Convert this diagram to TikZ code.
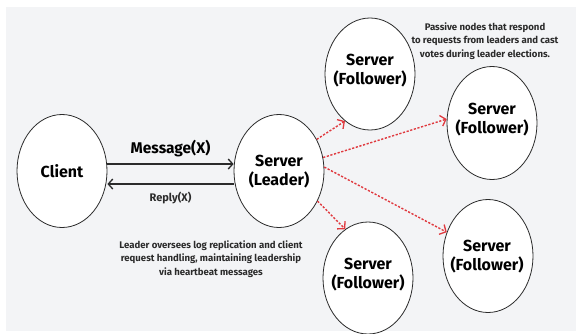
\documentclass[tikz,border=0pt]{standalone}
\usepackage{fontspec}
\setmainfont{Fira Sans}
\usetikzlibrary{arrows.meta,shapes.geometric}
\definecolor{bgcol}{HTML}{F3F4F6}
\definecolor{inkcol}{HTML}{2B2B2B}
\definecolor{hbcol}{HTML}{E0393E}
\tikzset{
  server/.style={draw=inkcol, line width=0.8pt, fill=white, ellipse shape},
  ellipse shape/.style={shape=ellipse, minimum width=90pt, minimum height=113pt, inner sep=0pt},
  lbl/.style={font=\bfseries\fontsize{16}{19}\selectfont, text=black, align=center},
  note/.style={font=\bfseries\fontsize{9.6}{13.3}\selectfont, text=inkcol, align=center},
  msg/.style={draw=inkcol, line width=1.3pt, -{Straight Barb[length=4.5pt,width=10pt,line width=1.3pt]}},
  beat/.style={draw=hbcol, line width=1.4pt, dash pattern=on 2.2pt off 1.6pt,
    -{Straight Barb[length=5pt,width=11pt,line width=1.3pt,sep=0pt]}}
}
\begin{document}
\begin{tikzpicture}[x=1pt,y=-1pt]
    % page and background
    \useasboundingbox (0,0) rectangle (576,333);
    \fill [white] (0,0) rectangle (576,333);
    \fill [bgcol] (6,7) rectangle (576,331);
    % nodes
    \node [server] (client) at (62,171) {};
    \node [lbl] (clienttext) at (client) {Client};
    \node [server] (leader) at (279,171) {};
    \node [lbl] (leadertext) at (279,172) {Server\\(Leader)};
    \node [server, minimum height=112pt] (top) at (370,74) {};
    \node [lbl] (toptext) at (370,71) {Server\\(Follower)};
    \node [server] (upper) at (492,123) {};
    \node [lbl] (uppertext) at (492,120) {Server\\(Follower)};
    \node [server] (lower) at (488,256) {};
    \node [lbl] (lowertext) at (487,257) {Server\\(Follower)};
    \node [server, minimum height=112pt] (bottom) at (368,278) {};
    \node [lbl] (bottomtext) at (368,275) {Server\\(Follower)};
    % client <-> leader
    \draw [msg] (client.east |- 0,164) -- (leader.west |- 0,164)
        node [midway, above=3pt, font=\bfseries\fontsize{15.5}{17}\selectfont] (msgtext) {Message(X)};
    \draw [msg] (leader.west |- 0,184) -- (client.east |- 0,184)
        node [midway, below=4pt, font=\bfseries\fontsize{11}{12}\selectfont, text=inkcol] (replytext) {Reply(X)};
    % heartbeats
    \draw [beat] (leader.40) -- (top.-118);
    \draw [beat] (leader.17) -- (upper.175);
    \draw [beat] (leader.5) -- (lower.150);
    \draw [beat] (leader.-38) -- (bottom.115);
    % notes
    \node [note] (passive) at (485,41) {Passive nodes that respond\\to requests from leaders and cast\\votes during leader elections.};
    \node [note] (oversee) at (211,259) {Leader oversees log replication and client\\request handling, maintaining leadership\\via heartbeat messages};
\end{tikzpicture}
\end{document}
